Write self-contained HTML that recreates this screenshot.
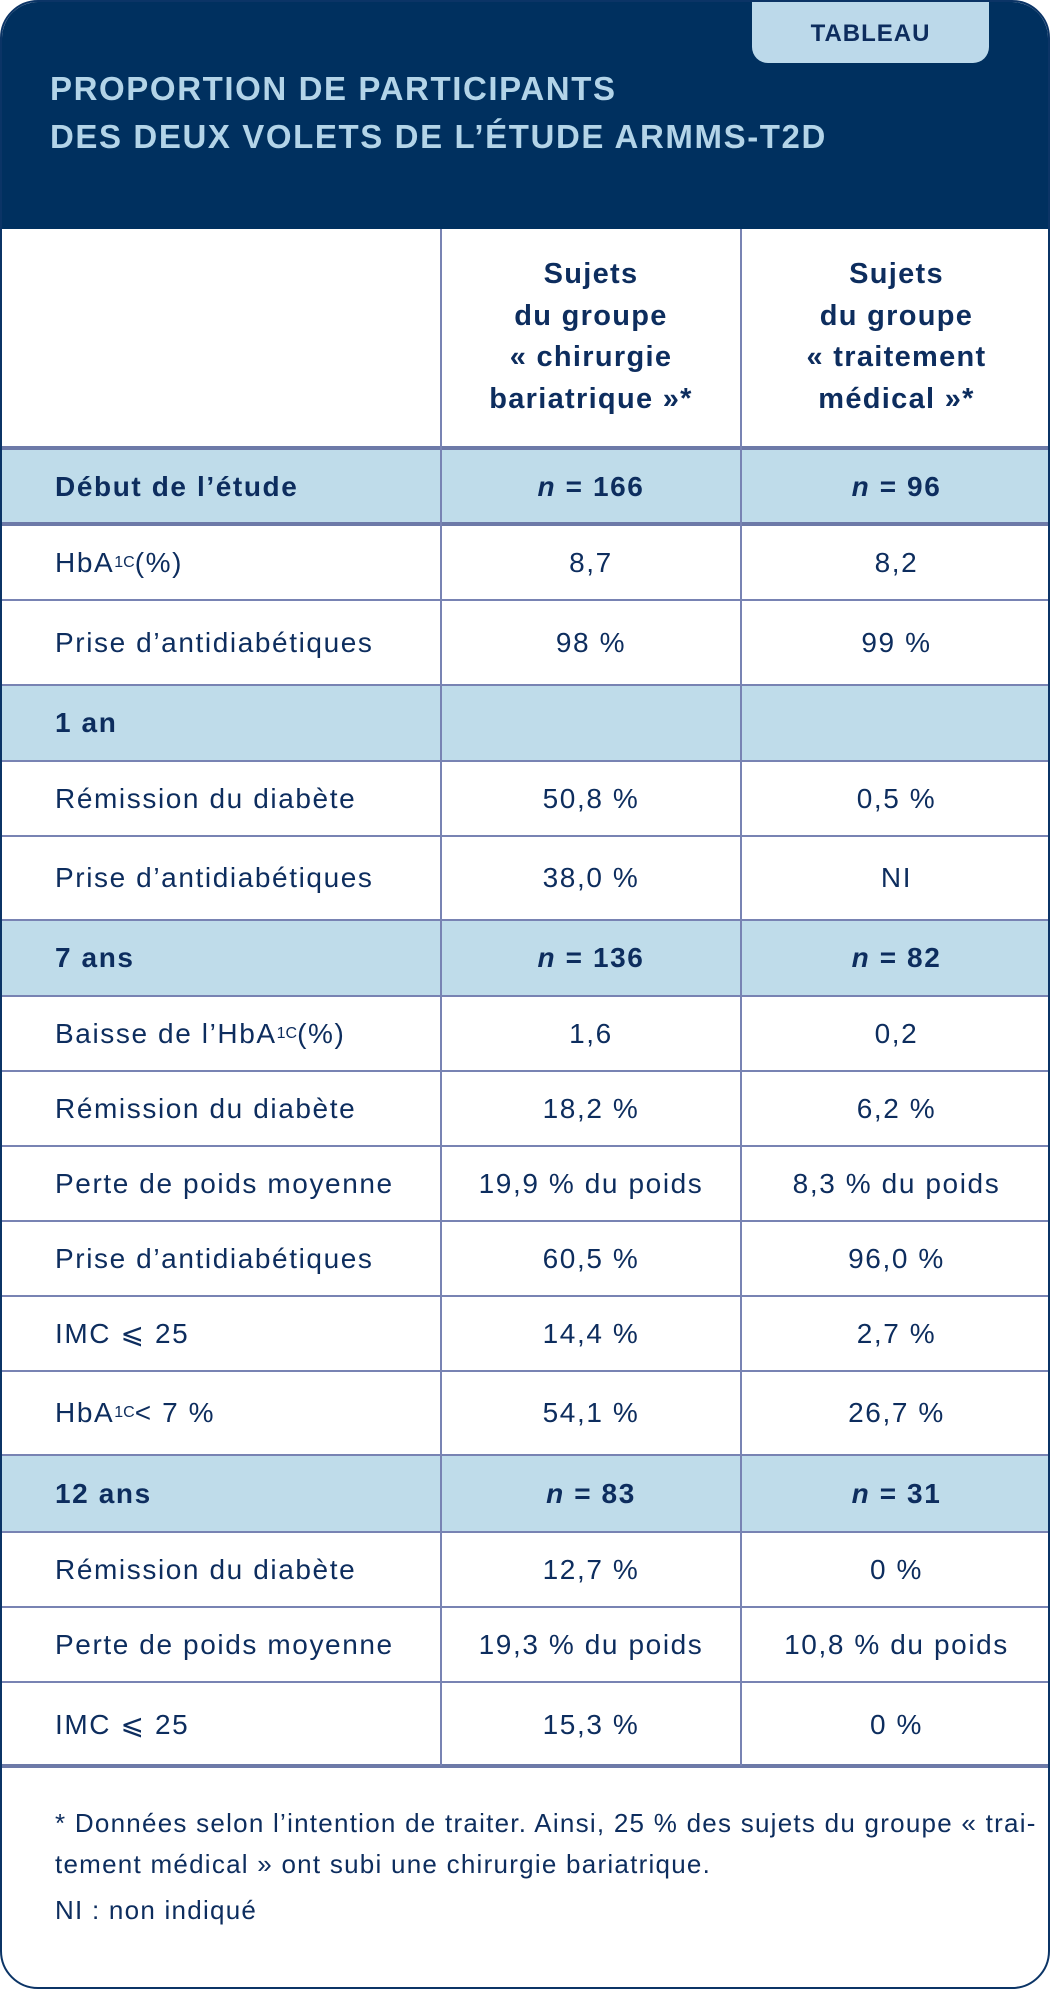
<!DOCTYPE html>
<html><head><meta charset="utf-8"><style>
*{margin:0;padding:0;box-sizing:border-box}
body{width:1050px;height:1990px;background:#fff;font-family:"Liberation Sans",sans-serif;color:#0d2d5e;overflow:hidden}
.card{position:absolute;left:0;top:0;width:1050px;height:1989px;border:2px solid #0b3466;border-radius:38px;overflow:hidden}
.head{position:absolute;left:0;top:0;width:1050px;height:227px;background:#00305f}
.tab{position:absolute;left:750px;top:0;width:237px;height:61px;background:#bcd9ea;border-radius:0 0 16px 16px;text-align:center;font-weight:bold;font-size:24px;line-height:64px;color:#0d2d5e;letter-spacing:1px}
.title{position:absolute;left:48px;top:63px;font-weight:bold;font-size:33px;line-height:48px;color:#b3d4e8;letter-spacing:1.6px}
.row{position:absolute;left:0;width:1050px;border-top:2px solid #7883b3}
.row.thick{border-top:4px solid #6d7aa8}
.blue{background:#bfdcea}
.c{position:absolute;top:0;height:100%;display:flex;align-items:center;font-size:28px;letter-spacing:1.6px;white-space:nowrap}
.c0{left:53px}
.c1{left:439px;width:300px;justify-content:center}
.c2{left:739px;width:311px;justify-content:center}
.b{font-weight:bold}
.vl{position:absolute;top:227px;height:1537px;width:2px;background:#7883b3}
.hdr{position:absolute;top:252px;font-weight:bold;font-size:29px;line-height:41.5px;text-align:center;letter-spacing:1.3px}
sub{font-size:16px;vertical-align:-2px;letter-spacing:0}
.foot{position:absolute;left:53px;top:1801px;font-size:26px;line-height:41px;width:990px;letter-spacing:1.25px}
</style></head><body>
<div class="card">
<div class="head"></div>
<div class="tab">TABLEAU</div>
<div class="title">PROPORTION DE PARTICIPANTS<br>DES DEUX VOLETS DE L’ÉTUDE ARMMS-T2D</div>
<div class="hdr" style="left:439px;width:300px">Sujets<br>du groupe<br>« chirurgie<br>bariatrique »*</div>
<div class="hdr" style="left:739px;width:311px">Sujets<br>du groupe<br>« traitement<br>médical »*</div>

<div class="row thick blue" style="top:444px;height:78px"><div class="c c0 b">Début de l’étude</div><div class="c c1 b"><i>n</i>&nbsp;= 166</div><div class="c c2 b"><i>n</i>&nbsp;= 96</div></div>
<div class="row thick" style="top:520px;height:77px"><div class="c c0">HbA<sub>1C</sub>(%)</div><div class="c c1">8,7</div><div class="c c2">8,2</div></div>
<div class="row" style="top:597px;height:85px"><div class="c c0">Prise d’antidiabétiques</div><div class="c c1">98 %</div><div class="c c2">99 %</div></div>
<div class="row blue" style="top:682px;height:76px"><div class="c c0 b">1 an</div></div>
<div class="row" style="top:758px;height:75px"><div class="c c0">Rémission du diabète</div><div class="c c1">50,8 %</div><div class="c c2">0,5 %</div></div>
<div class="row" style="top:833px;height:84px"><div class="c c0">Prise d’antidiabétiques</div><div class="c c1">38,0 %</div><div class="c c2">NI</div></div>
<div class="row blue" style="top:917px;height:76px"><div class="c c0 b">7 ans</div><div class="c c1 b"><i>n</i>&nbsp;= 136</div><div class="c c2 b"><i>n</i>&nbsp;= 82</div></div>
<div class="row" style="top:993px;height:75px"><div class="c c0">Baisse de l’HbA<sub>1C</sub>(%)</div><div class="c c1">1,6</div><div class="c c2">0,2</div></div>
<div class="row" style="top:1068px;height:75px"><div class="c c0">Rémission du diabète</div><div class="c c1">18,2 %</div><div class="c c2">6,2 %</div></div>
<div class="row" style="top:1143px;height:75px"><div class="c c0">Perte de poids moyenne</div><div class="c c1">19,9 % du poids</div><div class="c c2">8,3 % du poids</div></div>
<div class="row" style="top:1218px;height:75px"><div class="c c0">Prise d’antidiabétiques</div><div class="c c1">60,5 %</div><div class="c c2">96,0 %</div></div>
<div class="row" style="top:1293px;height:75px"><div class="c c0">IMC ⩽ 25</div><div class="c c1">14,4 %</div><div class="c c2">2,7 %</div></div>
<div class="row" style="top:1368px;height:84px"><div class="c c0">HbA<sub>1C</sub> &lt; 7 %</div><div class="c c1">54,1 %</div><div class="c c2">26,7 %</div></div>
<div class="row blue" style="top:1452px;height:77px"><div class="c c0 b">12 ans</div><div class="c c1 b"><i>n</i>&nbsp;= 83</div><div class="c c2 b"><i>n</i>&nbsp;= 31</div></div>
<div class="row" style="top:1529px;height:75px"><div class="c c0">Rémission du diabète</div><div class="c c1">12,7 %</div><div class="c c2">0 %</div></div>
<div class="row" style="top:1604px;height:75px"><div class="c c0">Perte de poids moyenne</div><div class="c c1">19,3 % du poids</div><div class="c c2">10,8 % du poids</div></div>
<div class="row" style="top:1679px;height:85px"><div class="c c0">IMC ⩽ 25</div><div class="c c1">15,3 %</div><div class="c c2">0 %</div></div>
<div class="row thick" style="top:1762px;height:0"></div>
<div class="vl" style="left:438px"></div>
<div class="vl" style="left:738px"></div>
<div class="foot">* Données selon l’intention de traiter. Ainsi, 25 % des sujets du groupe « trai-<br>tement médical » ont subi une chirurgie bariatrique.<div style="margin-top:5px">NI : non indiqué</div></div>
</div>
</body></html>
